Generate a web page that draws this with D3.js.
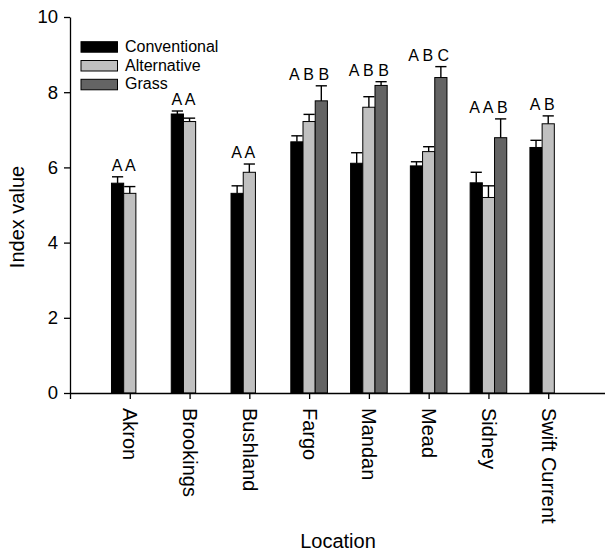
<!DOCTYPE html>
<html>
<head>
<meta charset="utf-8">
<script src="https://cdn.jsdelivr.net/npm/d3@7"></script>
<style>
  body { margin: 0; background: #fff; }
  svg { font-family: "Liberation Sans", Arial, Helvetica, sans-serif; }
</style>
</head>
<body>
<svg width="605" height="554"></svg>
<script>
const locations = ["Akron", "Brookings", "Bushland", "Fargo", "Mandan", "Mead", "Sidney", "Swift Current"];
const series = ["Conventional", "Alternative", "Grass"];
const conventional = [5.58, 7.42, 5.31, 6.68, 6.11, 6.04, 5.59, 6.53];
const conventionalErr = [0.17, 0.08, 0.20, 0.16, 0.28, 0.11, 0.28, 0.19];
const alternative = [5.31, 7.22, 5.87, 7.22, 7.60, 6.42, 5.20, 7.16];
const alternativeErr = [0.18, 0.09, 0.22, 0.19, 0.28, 0.13, 0.31, 0.21];
const grass = [null, null, null, 7.77, 8.18, 8.39, 6.79, null];
const grassErr = [null, null, null, 0.40, 0.10, 0.29, 0.50, null];
const letters = ["A A", "A A", "A A", "A B B", "A B B", "A B C", "A A B", "A B"];
const yTicks = [0, 2, 4, 6, 8, 10];

const colors = ["#000000", "#c0c0c0", "#646464"];
const vals = [conventional, alternative, grass];
const errs = [conventionalErr, alternativeErr, grassErr];

let bars = [];
locations.forEach((loc, i) => {
  series.forEach((s, j) => {
    if (vals[j][i] != null) bars.push({loc: loc, k: i + 1, s: s, j: j, v: vals[j][i], e: errs[j][i]});
  });
});

const svg = d3.select("svg");

let x = d3.scaleLinear().domain([0, 9]).range([70, 608]);
let y = d3.scaleLinear().domain([0, 10]).range([393, 17]);
let xs = d3.scaleBand().domain(series).range([-18.3, 18.3]);

// bars
svg.append("g")
  .selectAll("rect").data(bars)
  .join("rect")
    .attr("x", d => x(d.k) + xs(d.s))
    .attr("y", d => y(d.v))
    .attr("width", xs.bandwidth())
    .attr("height", d => y(0) - y(d.v))
    .attr("fill", d => colors[d.j])
    .attr("stroke", "#000")
    .attr("stroke-width", 1);

// error bars
let eb = svg.append("g").attr("stroke", "#000").attr("stroke-width", 1.4);
eb.selectAll("line.v").data(bars)
  .join("line").attr("class", "v")
    .attr("x1", d => x(d.k) + xs(d.s) + xs.bandwidth() / 2)
    .attr("x2", d => x(d.k) + xs(d.s) + xs.bandwidth() / 2)
    .attr("y1", d => y(d.v))
    .attr("y2", d => y(d.v + d.e));
eb.selectAll("line.c").data(bars)
  .join("line").attr("class", "c")
    .attr("x1", d => x(d.k) + xs(d.s) + 0.5)
    .attr("x2", d => x(d.k) + xs(d.s) + xs.bandwidth() - 0.5)
    .attr("y1", d => y(d.v + d.e))
    .attr("y2", d => y(d.v + d.e));

// significance letters
svg.append("g")
  .selectAll("text").data(locations)
  .join("text")
    .attr("x", (d, i) => {
      let b = bars.filter(o => o.loc == d);
      let x0 = d3.min(b, o => x(o.k) + xs(o.s)), x1 = d3.max(b, o => x(o.k) + xs(o.s) + xs.bandwidth());
      return (x0 + x1) / 2;
    })
    .attr("y", d => y(d3.max(bars.filter(o => o.loc == d), o => o.v + o.e)) - 6)
    .attr("text-anchor", "middle")
    .style("font-size", "16px")
    .text((d, i) => letters[i]);

// axes
let gx = svg.append("g")
  .attr("transform", "translate(0," + y(0) + ")")
  .call(d3.axisBottom(x)
    .tickValues(d3.range(0, 9))
    .tickFormat(k => k == 0 ? "" : locations[k - 1])
    .tickSize(6).tickSizeOuter(0));
gx.selectAll("text")
  .attr("transform", "rotate(90)")
  .attr("x", 15).attr("y", 0)
  .attr("dy", "0.35em")
  .style("text-anchor", "start")
  .style("font-size", "20px")
  .attr("fill", "#000");

let gy = svg.append("g")
  .attr("transform", "translate(" + x(0) + ",0)")
  .call(d3.axisLeft(y).tickValues(yTicks).tickSize(6).tickSizeOuter(0).tickPadding(6));
gy.selectAll("text").style("font-size", "18.5px").attr("fill", "#000");

svg.selectAll(".domain, .tick line").attr("stroke", "#000").attr("stroke-width", 1.3);

// axis titles
svg.append("text")
  .attr("transform", "translate(24,217) rotate(-90)")
  .attr("text-anchor", "middle")
  .style("font-size", "20px")
  .text("Index value");
svg.append("text")
  .attr("x", 338).attr("y", 548)
  .attr("text-anchor", "middle")
  .style("font-size", "20px")
  .text("Location");

// legend
let lg = svg.append("g")
  .selectAll("g").data(series)
  .join("g")
    .attr("transform", (d, i) => "translate(81," + (41.7 + i * 18.8) + ")");
lg.append("rect")
  .attr("width", 36.5).attr("height", 10.5)
  .attr("fill", (d, i) => colors[i])
  .attr("stroke", "#000").attr("stroke-width", 1);
lg.append("text")
  .attr("x", 44).attr("y", 10)
  .style("font-size", "16px")
  .text(d => d);
</script>
</body>
</html>
